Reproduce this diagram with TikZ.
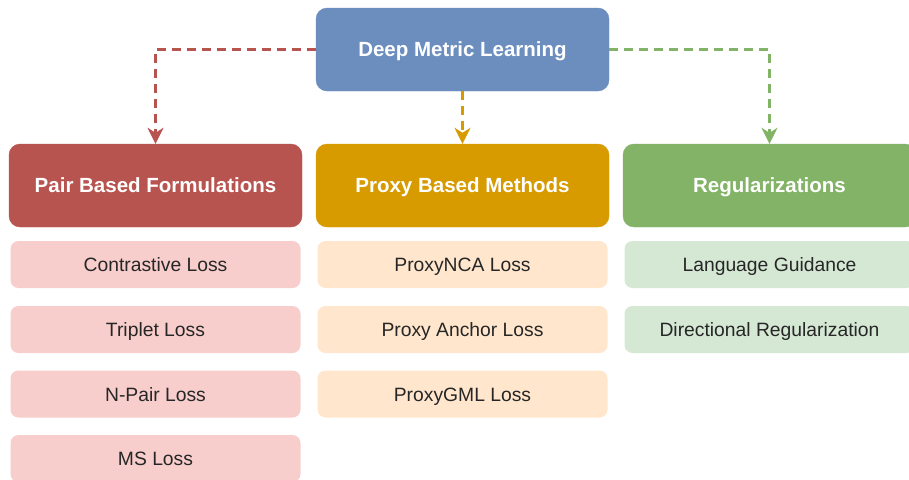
\documentclass[tikz,border=0pt]{standalone}
\usepackage{fontspec}
\setmainfont{Liberation Sans}
\usetikzlibrary{arrows.meta}
\definecolor{dmlblue}{HTML}{6C8EBF}
\definecolor{pairred}{HTML}{B85450}
\definecolor{proxyyellow}{HTML}{D79B00}
\definecolor{reggreen}{HTML}{82B366}
\definecolor{pairlight}{HTML}{F8CECC}
\definecolor{proxylight}{HTML}{FFE6CC}
\definecolor{reglight}{HTML}{D5E8D4}
\tikzstyle{rootbox} = [rectangle, rounded corners=11pt, minimum width=293pt, minimum height=83pt, text centered, text height=17pt, text depth=2.5pt, text=white, font=\fontsize{20.5}{24}\selectfont\bfseries]
\tikzstyle{catbox} = [rectangle, rounded corners=11pt, minimum width=293pt, minimum height=83pt, text centered, text height=17pt, text depth=2.5pt, text=white, font=\fontsize{20.5}{24}\selectfont\bfseries]
\tikzstyle{itembox} = [rectangle, rounded corners=8pt, minimum width=290pt, minimum height=47pt, text centered, text height=16pt, text depth=2pt, text=black!85, font=\fontsize{19.3}{23}\selectfont]
\tikzstyle{dasharrow} = [line width=2.6pt, dash pattern=on 9pt off 6pt, -{Stealth[length=16pt,width=16pt,inset=5pt]}]

\begin{document}
\begin{tikzpicture}[x=1pt, y=-1pt]
        \useasboundingbox (0,0) rectangle (909,479);
        \node (dml) [rootbox, fill=dmlblue, draw=dmlblue] at (462.5,49.5) {Deep Metric Learning};

        \node (pair) [catbox, fill=pairred, draw=pairred] at (155.5,185.5) {Pair Based Formulations};
        \node (proxy) [catbox, fill=proxyyellow, draw=proxyyellow] at (462.5,185.5) {Proxy Based Methods};
        \node (reg) [catbox, fill=reggreen, draw=reggreen] at (769.5,185.5) {Regularizations};

        \draw [dasharrow, pairred] (dml.west) -| (pair.north);
        \draw [dasharrow, proxyyellow] (dml.south) -- (proxy.north);
        \draw [dasharrow, reggreen] (dml.east) -| (reg.north);

        % pair based
        \node (contrastive) [itembox, fill=pairlight] at (155.5,264.5) {Contrastive Loss};
        \node (triplet) [itembox, fill=pairlight] at (155.5,329.5) {Triplet Loss};
        \node (npair) [itembox, fill=pairlight] at (155.5,394) {N-Pair Loss};
        \node (ms) [itembox, fill=pairlight] at (155.5,458.5) {MS Loss};

        % proxy based
        \node (proxynca) [itembox, fill=proxylight] at (462.5,264.5) {ProxyNCA Loss};
        \node (proxyanchor) [itembox, fill=proxylight] at (462.5,329.5) {Proxy Anchor Loss};
        \node (proxygml) [itembox, fill=proxylight] at (462.5,394) {ProxyGML Loss};

        % regularizations
        \node (language) [itembox, fill=reglight] at (769.5,264.5) {Language Guidance};
        \node (directional) [itembox, fill=reglight] at (769.5,329.5) {Directional Regularization};
\end{tikzpicture}
\end{document}
